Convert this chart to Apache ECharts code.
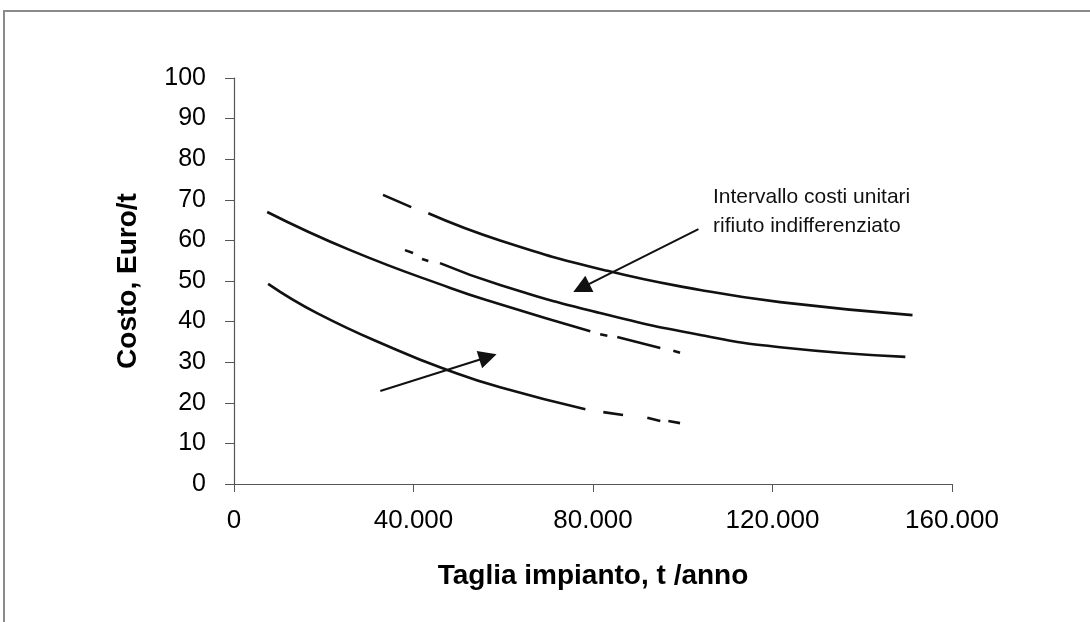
<!DOCTYPE html>
<html>
<head>
<meta charset="utf-8">
<script src="https://cdn.jsdelivr.net/npm/echarts@6/dist/echarts.min.js"></script>
<style>
  html, body { margin: 0; padding: 0; background: #fff; }
  #wrap { position: relative; width: 1090px; height: 622px; overflow: hidden; }
  #frame { position: absolute; left: 3px; top: 10px; right: -10px; bottom: -10px;
           border-top: 2px solid #8a8a8a; border-left: 2px solid #8a8a8a; }
  #chart { position: absolute; left: 0; top: 0; width: 1090px; height: 622px; }
</style>
</head>
<body>
<div id="wrap">
  <div id="frame"></div>
  <div id="chart"></div>
</div>
<script>
// assi
const xTicks = [0, 40000, 80000, 120000, 160000]
const yTicks = [0, 10, 20, 30, 40, 50, 60, 70, 80, 90, 100]

// curva superiore (intervallo costi unitari, limite alto)
const topDash = [[33200, 71.2], [39500, 68.2]]
const topLine = [[43300, 66.7], [59300, 60.0], [83200, 52.5], [103900, 47.8], [121700, 44.8], [151200, 41.6]]

// curva superiore, limite basso
const midDash1 = [[38100, 57.6], [39900, 56.9]]
const midDash2 = [[41900, 55.4], [43300, 54.9]]
const midLine = [[45900, 54.4], [59300, 49.0], [81600, 42.1], [103900, 36.7], [121700, 33.7], [149600, 31.3]]

// curva inferiore, limite alto
const upLine = [[7400, 67.0], [25900, 57.6], [48200, 48.3], [59300, 44.3], [79400, 37.6]]
const upDash1 = [[81600, 36.9], [83200, 36.5]]
const upDash2 = [[85400, 36.2], [95000, 33.5]]
const upDash3 = [[97900, 32.8], [99400, 32.3]]

// curva inferiore, limite basso
const lowLine = [[7600, 49.3], [18500, 42.1], [36300, 33.0], [47500, 28.1], [59300, 23.8], [78300, 18.4]]
const lowDash1 = [[82300, 17.7], [86700, 17.0]]
const lowDash2 = [[92100, 16.3], [95000, 15.5]]
const lowDash3 = [[96800, 15.5], [99400, 15.0]]

// frecce
const arrowTop = [[103500, 62.8], [77400, 48.3]]
const arrowLow = [[32600, 22.9], [56600, 31.3]]

const noteLines = ['Intervallo costi unitari', 'rifiuto indifferenziato']

const INK = '#111'
const font = "'Liberation Sans', Arial, sans-serif"

const curve = (data, smooth = 0.5) => ({
  type: 'line', data, smooth, symbol: 'none', silent: true,
  lineStyle: { color: INK, width: 2.6 }
})

const arrow = (coords) => ({
  type: 'lines', coordinateSystem: 'cartesian2d', silent: true,
  symbol: ['none', 'triangle'], symbolSize: [17, 18],
  lineStyle: { color: INK, width: 2, opacity: 1 },
  itemStyle: { color: INK },
  data: [{ coords }]
})

const chart = echarts.init(document.getElementById('chart'))
chart.setOption({
  animation: false,
  backgroundColor: 'transparent',
  grid: { left: 234, right: 138, top: 78, bottom: 138 },
  xAxis: {
    type: 'value', min: xTicks[0], max: xTicks[xTicks.length - 1], interval: 40000,
    name: 'Taglia impianto, t /anno', nameLocation: 'middle', nameGap: 78,
    nameTextStyle: { color: '#000', fontFamily: font, fontSize: 28, fontWeight: 'bold' },
    axisLine: { lineStyle: { color: '#555', width: 1.2 } },
    axisTick: { length: 8, lineStyle: { color: '#555' } },
    axisLabel: {
      color: '#000', fontFamily: font, fontSize: 26, margin: 24,
      formatter: (v) => (v === 0 ? '0' : (v / 1000) + '.000')
    },
    splitLine: { show: false }
  },
  yAxis: {
    type: 'value', min: yTicks[0], max: yTicks[yTicks.length - 1], interval: 10,
    name: 'Costo, Euro/t', nameLocation: 'middle', nameGap: 92,
    nameTextStyle: { color: '#000', fontFamily: font, fontSize: 28, fontWeight: 'bold' },
    axisLine: { show: true, lineStyle: { color: '#555', width: 1.2 } },
    axisTick: { show: true, length: 9, lineStyle: { color: '#555' } },
    axisLabel: { color: '#000', fontFamily: font, fontSize: 25, margin: 28 },
    splitLine: { show: false }
  },
  graphic: [{
    type: 'text', left: 713, top: 183, silent: true,
    style: { text: noteLines.join('\n'), fill: '#111', font: '21px ' + font, lineHeight: 29 }
  }],
  series: [
    curve(topDash, false), curve(topLine),
    curve(midDash1, false), curve(midDash2, false), curve(midLine),
    curve(upLine), curve(upDash1, false), curve(upDash2, false), curve(upDash3, false),
    curve(lowLine), curve(lowDash1, false), curve(lowDash2, false), curve(lowDash3, false),
    arrow(arrowTop), arrow(arrowLow)
  ]
})
</script>
</body>
</html>
